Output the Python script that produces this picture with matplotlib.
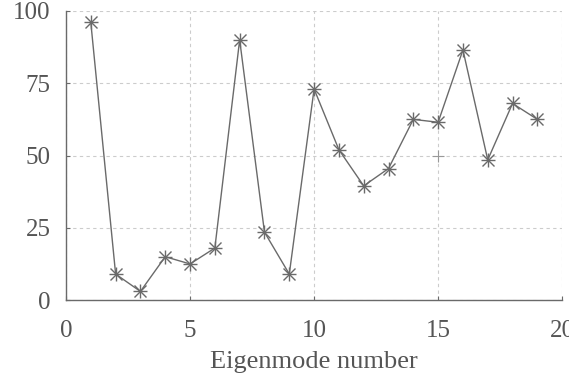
import matplotlib
matplotlib.use("Agg")
import matplotlib.pyplot as plt

# Eigenmode numbers and their percentage values
modes = list(range(1, 20))
values = [96, 9, 3, 15, 12.5, 18, 90, 23.5, 9, 73, 52, 39.5, 45.5, 62.5, 61.5, 86.5, 48.5, 68, 62.5]

x_ticks = [0, 5, 10, 15, 20]
y_ticks = [0, 25, 50, 75, 100]
x_label = "Eigenmode number"

ink = "#6a6a6a"
text_c = "#555555"

plt.rcParams["font.family"] = ["Liberation Serif", "DejaVu Serif"]

fig = plt.figure(figsize=(5.69, 3.77), dpi=100)
ax = fig.add_axes([0.116, 0.204, 0.872, 0.767])

ax.plot(modes, values, color=ink, lw=1.0, zorder=3)
ax.plot(modes, values, ls="none", marker="+", ms=10, mew=1.0, color=ink, zorder=4)
ax.plot(modes, values, ls="none", marker="x", ms=8, mew=1.0, color=ink, zorder=4)
ax.plot([15], [50], ls="none", marker="+", ms=8, mew=0.8, color="#999999", zorder=2)

ax.set_xlim(0, 20)
ax.set_ylim(0, 100)
ax.set_xticks(x_ticks)
ax.set_yticks(y_ticks)
ax.grid(True, ls=(0, (3, 3)), color="#cccccc", lw=0.8)
ax.set_axisbelow(True)

for s in ("top", "right"):
    ax.spines[s].set_visible(False)
for s in ("left", "bottom"):
    ax.spines[s].set_color(ink)
    ax.spines[s].set_linewidth(1.0)

ax.tick_params(direction="in", length=3, color=ink, labelcolor=text_c, labelsize=18)
ax.tick_params(axis="x", pad=14)
ax.tick_params(axis="y", pad=11)
ax.set_xlabel(x_label, fontsize=19, color=text_c, labelpad=7)

fig.savefig("out.png", dpi=100)
